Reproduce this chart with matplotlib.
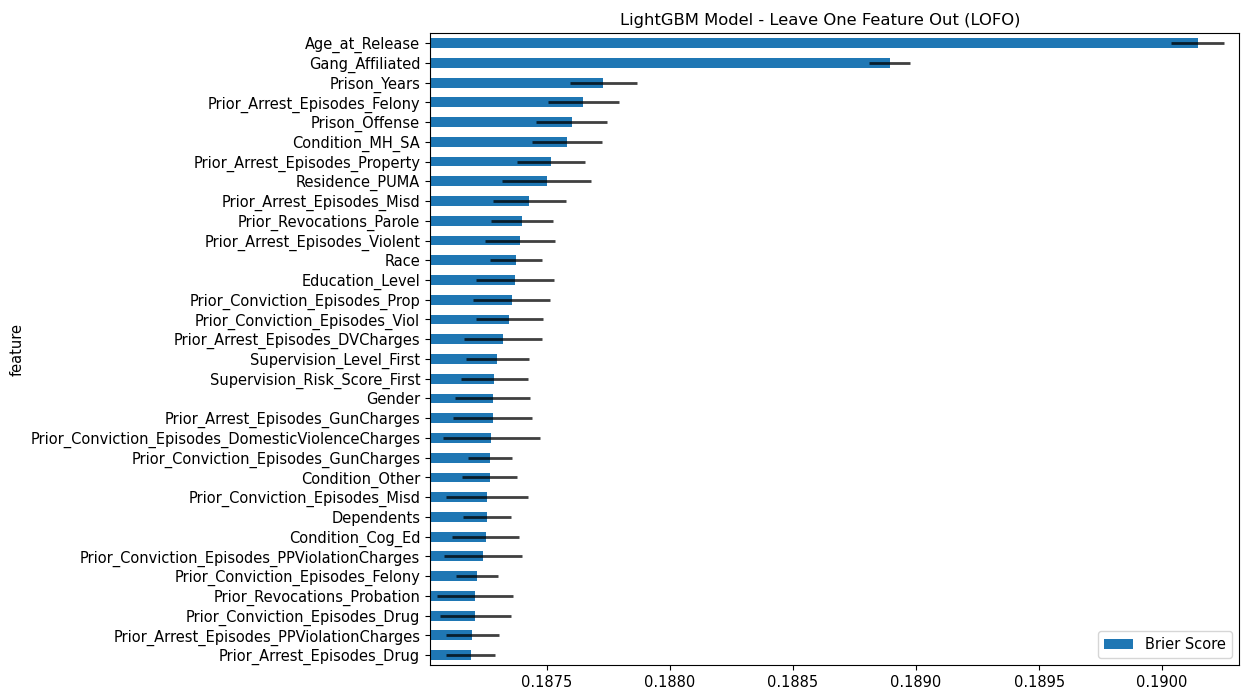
import matplotlib
matplotlib.use("Agg")
import matplotlib.pyplot as plt
import numpy as np

# top to bottom as shown in the chart
features = [
    "Age_at_Release", "Gang_Affiliated", "Prison_Years",
    "Prior_Arrest_Episodes_Felony", "Prison_Offense", "Condition_MH_SA",
    "Prior_Arrest_Episodes_Property", "Residence_PUMA",
    "Prior_Arrest_Episodes_Misd", "Prior_Revocations_Parole",
    "Prior_Arrest_Episodes_Violent", "Race", "Education_Level",
    "Prior_Conviction_Episodes_Prop", "Prior_Conviction_Episodes_Viol",
    "Prior_Arrest_Episodes_DVCharges", "Supervision_Level_First",
    "Supervision_Risk_Score_First", "Gender",
    "Prior_Arrest_Episodes_GunCharges",
    "Prior_Conviction_Episodes_DomesticViolenceCharges",
    "Prior_Conviction_Episodes_GunCharges", "Condition_Other",
    "Prior_Conviction_Episodes_Misd", "Dependents", "Condition_Cog_Ed",
    "Prior_Conviction_Episodes_PPViolationCharges",
    "Prior_Conviction_Episodes_Felony", "Prior_Revocations_Probation",
    "Prior_Conviction_Episodes_Drug", "Prior_Arrest_Episodes_PPViolationCharges",
    "Prior_Arrest_Episodes_Drug",
]

brier = [
    0.190144, 0.188892, 0.187729, 0.187648, 0.187600, 0.187581,
    0.187516, 0.187499, 0.187428, 0.187398, 0.187391, 0.187375,
    0.187369, 0.187357, 0.187346, 0.187321, 0.187298, 0.187286,
    0.187279, 0.187279, 0.187274, 0.187268, 0.187268, 0.187256,
    0.187256, 0.187251, 0.187239, 0.187215, 0.187209, 0.187209,
    0.187196, 0.187191,
]

brier_std = [
    0.000108, 0.0000846, 0.000136, 0.000144, 0.000145, 0.000142,
    0.000138, 0.000180, 0.000148, 0.000125, 0.000142, 0.000106,
    0.000159, 0.000157, 0.000136, 0.000157, 0.000127, 0.000136,
    0.000153, 0.000160, 0.000198, 0.0000908, 0.000112, 0.000168,
    0.0000969, 0.000136, 0.000159, 0.0000854, 0.000154, 0.000144,
    0.000108, 0.0000996,
]

# pandas-style barh: first row at the bottom
feat = features[::-1]
vals = brier[::-1]
errs = brier_std[::-1]
ypos = np.arange(len(feat))

fig = plt.figure(figsize=(12.46, 6.92), dpi=100)
ax = fig.add_axes([0.345, 0.039, 0.6495, 0.913])

ax.barh(ypos, vals, height=0.5, color="#1f77b4", label="Brier Score",
        xerr=errs, error_kw=dict(ecolor="black", elinewidth=2, alpha=0.75))

ax.set_yticks(ypos)
ax.set_yticklabels(feat, fontsize=10.5)
ax.set_ylim(-0.5, len(feat) - 0.5)
ax.set_xlim(0.187024, 0.190313)
ax.set_xticks([0.1875, 0.1880, 0.1885, 0.1890, 0.1895, 0.1900])
ax.set_xticklabels(["0.1875", "0.1880", "0.1885", "0.1890", "0.1895", "0.1900"],
                   fontsize=10.5)
ax.set_ylabel("feature", fontsize=10.5)
ax.set_title("LightGBM Model - Leave One Feature Out (LOFO)", fontsize=11.8,
             x=0.482)
ax.legend(loc="lower right", fontsize=10.5)

fig.savefig("out.png", dpi=100)
